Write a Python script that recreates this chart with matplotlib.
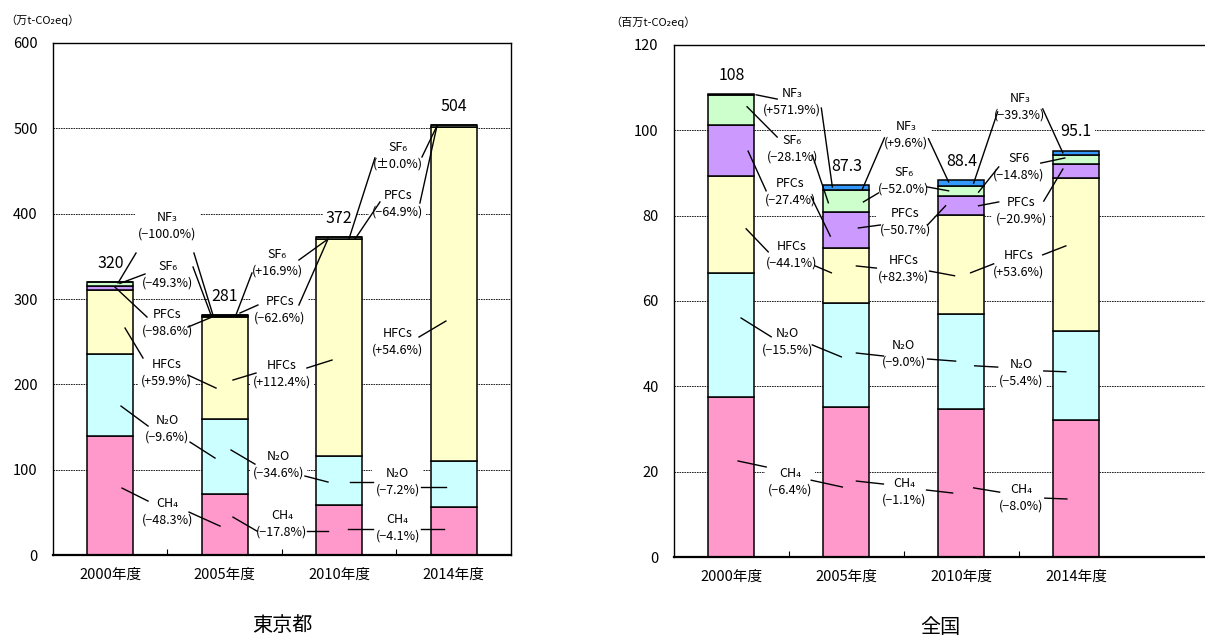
import numpy as np
import matplotlib
matplotlib.use('Agg')
import matplotlib.pyplot as plt

plt.rcParams['font.family'] = ['Noto Sans CJK JP', 'DejaVu Sans']

years = ['2000年度', '2005年度', '2010年度', '2014年度']
gases = ['CH4', 'N2O', 'HFCs', 'PFCs', 'SF6', 'NF3']
colors = ['#FF99CC', '#CCFFFF', '#FFFFCC', '#CC99FF', '#CCFFCC', '#3399FF']

# 東京都 (万t-CO2eq)
tokyo_ch4 = [139, 71.5, 58.8, 56.4]
tokyo_n2o = [97, 88, 57.5, 53.4]
tokyo_hfcs = [75, 120, 254, 392]
tokyo_pfcs = [4.8, 0.07, 0.03, 0.01]
tokyo_sf6 = [3.6, 1.8, 2.1, 2.1]
tokyo_nf3 = [0.5, 0.0, 0.0, 0.0]
tokyo_totals = ['320', '281', '372', '504']

# 全国 (百万t-CO2eq)
japan_ch4 = [37.6, 35.2, 34.8, 32.0]
japan_n2o = [28.9, 24.4, 22.2, 21.0]
japan_hfcs = [22.8, 12.7, 23.2, 35.8]
japan_pfcs = [11.9, 8.6, 4.3, 3.4]
japan_sf6 = [7.0, 5.0, 2.4, 2.1]
japan_nf3 = [0.2, 1.3, 1.4, 0.9]
japan_totals = ['108', '87.3', '88.4', '95.1']

# labels: (text, x, y, leader segments)
tokyo_notes = [
    ('NF₃\n(−100.0%)', 1.00, 385.6, [((0.725, 353.9), (0.568, 318.8)), ((1.231, 353.9), (1.397, 281.3))]),
    ('SF₆\n(−49.3%)', 1.00, 328.1, [((0.803, 329.3), (0.585, 318.3)), ((1.223, 337.5), (1.380, 281.3))]),
    ('PFCs\n(−98.6%)', 1.00, 271.9, [((0.821, 278.9), (0.541, 314.0)), ((1.179, 267.2), (1.389, 278.9))]),
    ('HFCs\n(+59.9%)', 0.99, 213.3, [((0.786, 230.9), (0.629, 266.0)), ((1.179, 210.9), (1.424, 195.7))]),
    ('N₂O\n(−9.6%)', 1.00, 148.2, [((0.830, 151.2), (0.594, 174.6)), ((1.197, 132.4), (1.415, 113.7))]),
    ('CH₄\n(−48.3%)', 1.00, 51.0, [((0.830, 63.3), (0.603, 78.5)), ((1.188, 50.4), (1.459, 34.0))]),
    ('SF₆\n(+16.9%)', 1.96, 342.8, [((1.738, 330.5), (1.598, 281.3)), ((2.148, 345.7), (2.402, 370.3))]),
    ('PFCs\n(−62.6%)', 1.98, 287.1, [((1.790, 293.0), (1.633, 283.6)), ((2.148, 293.0), (2.402, 370.3))]),
    ('HFCs\n(+112.4%)', 2.00, 212.7, [((1.773, 213.3), (1.572, 205.1)), ((2.218, 219.2), (2.437, 228.5))]),
    ('N₂O\n(−34.6%)', 1.97, 105.5, [((1.764, 106.6), (1.555, 123.1)), ((2.201, 92.6), (2.402, 85.6))]),
    ('CH₄\n(−17.8%)', 2.00, 36.3, [((1.782, 28.1), (1.572, 44.5)), ((2.218, 28.1), (2.402, 28.1))]),
    ('SF₆\n(±0.0%)', 3.01, 467.6, [((2.812, 465.3), (2.585, 370.3)), ((3.223, 466.4), (3.354, 502.8))]),
    ('PFCs\n(−64.9%)', 3.01, 411.9, [((2.856, 413.7), (2.638, 370.3)), ((3.205, 412.5), (3.354, 502.8))]),
    ('HFCs\n(+54.6%)', 3.01, 250.2, [((3.197, 255.5), (3.432, 274.2))]),
    ('N₂O\n(−7.2%)', 3.01, 86.1, [((2.594, 85.6), (2.795, 85.6)), ((3.214, 79.7), (3.432, 79.7))]),
    ('CH₄\n(−4.1%)', 3.01, 32.2, [((2.576, 30.5), (2.795, 30.5)), ((3.214, 30.5), (3.415, 30.5))]),
]

japan_notes = [
    ('NF₃\n(+571.9%)', 1.03, 106.6, [((0.898, 107.3), (0.715, 108.3)), ((1.282, 105.2), (1.378, 86.7))]),
    ('SF₆\n(−28.1%)', 1.03, 95.7, [((0.898, 98.4), (0.636, 105.5)), ((1.203, 94.2), (1.343, 83.0))]),
    ('PFCs\n(−27.4%)', 1.01, 85.5, [((0.802, 85.8), (0.645, 95.1)), ((1.194, 84.4), (1.360, 75.2))]),
    ('HFCs\n(−44.1%)', 1.02, 70.8, [((0.820, 71.5), (0.628, 76.9)), ((1.229, 68.2), (1.369, 66.6))]),
    ('N₂O\n(−15.5%)', 0.99, 50.5, [((0.846, 51.6), (0.584, 56.0)), ((1.203, 49.7), (1.456, 46.9))]),
    ('CH₄\n(−6.4%)', 1.01, 17.7, [((0.802, 21.1), (0.558, 22.5)), ((1.194, 18.0), (1.465, 16.4))]),
    ('NF₃\n(+9.6%)', 2.02, 98.9, [((1.831, 98.2), (1.639, 86.2)), ((2.214, 98.0), (2.389, 87.9))]),
    ('SF₆\n(−52.0%)', 2.00, 88.2, [((1.779, 85.3), (1.648, 83.2)), ((2.206, 86.7), (2.389, 85.8))]),
    ('PFCs\n(−50.7%)', 2.01, 78.6, [((1.796, 77.8), (1.604, 77.1)), ((2.206, 77.8), (2.363, 82.3))]),
    ('HFCs\n(+82.3%)', 2.00, 67.5, [((1.761, 67.7), (1.587, 68.2)), ((2.223, 67.0), (2.441, 65.9))]),
    ('N₂O\n(−9.0%)', 2.00, 47.7, [((1.822, 47.1), (1.587, 47.8)), ((2.206, 46.4), (2.450, 45.9))]),
    ('CH₄\n(−1.1%)', 2.00, 15.4, [((1.822, 17.1), (1.587, 17.8)), ((2.197, 15.7), (2.424, 15.0))]),
    ('NF₃\n(−39.3%)', 3.01, 105.6, [((2.816, 104.3), (2.607, 87.6)), ((3.208, 105.0), (3.383, 94.7))]),
    ('SF6\n(−14.8%)', 3.00, 91.5, [((2.825, 91.4), (2.650, 85.5)), ((3.191, 92.3), (3.400, 93.5))]),
    ('PFCs\n(−20.9%)', 3.02, 81.1, [((2.825, 83.2), (2.650, 82.3)), ((3.217, 83.4), (3.383, 90.9))]),
    ('HFCs\n(+53.6%)', 3.00, 68.8, [((2.781, 68.7), (2.581, 66.6)), ((3.208, 70.8), (3.409, 72.9))]),
    ('N₂O\n(−5.4%)', 3.02, 43.2, [((2.816, 44.5), (2.616, 44.8)), ((3.217, 43.6), (3.409, 43.4))]),
    ('CH₄\n(−8.0%)', 3.02, 13.9, [((2.833, 15.2), (2.607, 16.2)), ((3.226, 13.8), (3.418, 13.6))]),
]


def draw_panel(ax, series, totals, notes, ymax, ystep, xmax, unit, title, unit_x):
    x = np.arange(len(years)) + 0.5
    bottom = np.zeros(len(years))
    for vals, c in zip(series, colors):
        ax.bar(x, vals, width=0.4, bottom=bottom, color=c, edgecolor='black',
               linewidth=1.1, zorder=2)
        bottom += np.array(vals)
    # totals above each bar
    for xi, top, t in zip(x, bottom, totals):
        ax.annotate(t, (xi, top), xytext=(0, 13.5), textcoords='offset points',
                    ha='center', va='center', fontsize=11.5, zorder=4,
                    bbox=dict(boxstyle='square,pad=0.2', fc='white', ec='none'))
    # gas labels with leader lines
    for text, tx, ty, segs in notes:
        ax.text(tx, ty, text, ha='center', va='center', fontsize=9,
                linespacing=1.35, zorder=4,
                bbox=dict(boxstyle='square,pad=0.25', fc='white', ec='none'))
        for (x0, y0), (x1, y1) in segs:
            ax.plot([x0, x1], [y0, y1], color='black', lw=1.0, zorder=5)

    ax.set_xlim(0, xmax)
    ax.set_ylim(0, ymax)
    ax.set_yticks(np.arange(0, ymax + 1, ystep))
    ax.set_xticks(x)
    ax.set_xticklabels(years)
    ax.set_xticks([1, 2, 3], minor=True)
    ax.tick_params(axis='x', which='major', length=0, pad=9, labelsize=10.5)
    ax.tick_params(axis='x', which='minor', direction='in', length=4, width=0.8)
    ax.tick_params(axis='y', length=0, pad=11, labelsize=10.5)
    ax.yaxis.grid(True, linestyle=(0, (2, 1)), color='black', lw=0.6)
    ax.set_axisbelow(True)
    for s in ax.spines.values():
        s.set_linewidth(1.0)
    ax.spines['bottom'].set_linewidth(1.6)
    ax.text(unit_x, 1.045, unit, transform=ax.transAxes, fontsize=8, ha='left', va='center')
    ax.set_xlabel(title, fontsize=14.5, labelpad=24)


fig = plt.figure(figsize=(12.05, 6.41), dpi=100)
ax1 = fig.add_axes([0.044, 0.134, 0.380, 0.799])
ax2 = fig.add_axes([0.5593, 0.131, 0.4417, 0.799])

draw_panel(ax1, [tokyo_ch4, tokyo_n2o, tokyo_hfcs, tokyo_pfcs, tokyo_sf6, tokyo_nf3],
           tokyo_totals, tokyo_notes, 600, 100, 4.0, '（万t-CO₂eq）', '東京都', -0.105)
draw_panel(ax2, [japan_ch4, japan_n2o, japan_hfcs, japan_pfcs, japan_sf6, japan_nf3],
           japan_totals, japan_notes, 120, 20, 4.63, '（百万t-CO₂eq）', '全国', -0.12)
ax2.spines['right'].set_visible(False)

fig.savefig('out.png', dpi=100)
